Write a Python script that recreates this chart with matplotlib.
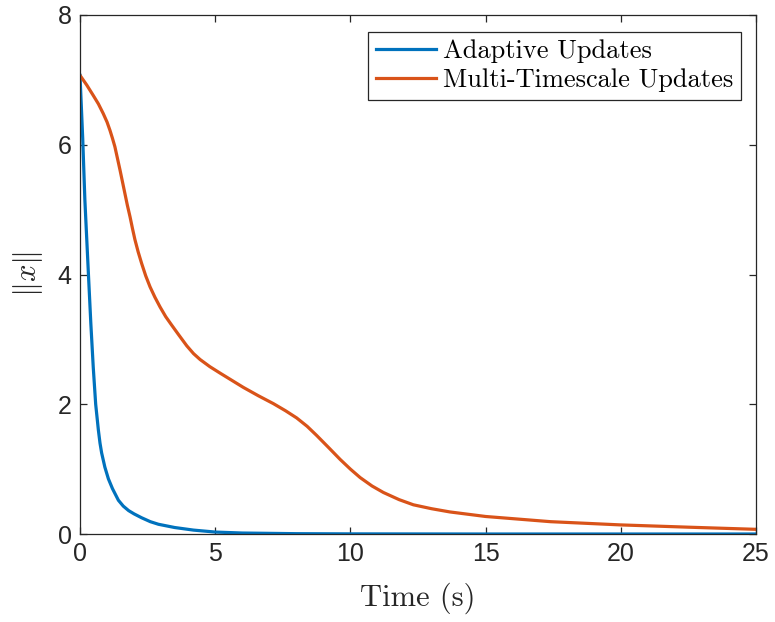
import matplotlib
matplotlib.use('Agg')
import matplotlib.pyplot as plt

# MATLAB default line colours
c_adaptive = '#0072BD'
c_multi = '#D95319'
axis_col = '#262626'

# values
t_adaptive = [0, 0.1, 0.18, 0.31, 0.4, 0.49, 0.58, 0.68, 0.74, 0.8, 0.92, 1.05, 1.2,
              1.42, 1.6, 1.8, 2.0, 2.28, 2.6, 2.9, 3.5, 4.2, 5, 6, 8, 10, 15, 20, 25]
x_adaptive = [7.07, 6.1, 5.15, 4.02, 3.25, 2.57, 2.0, 1.6, 1.4, 1.25, 1.03, 0.85, 0.7,
              0.52, 0.43, 0.36, 0.31, 0.25, 0.19, 0.15, 0.1, 0.06, 0.03, 0.015, 0.005,
              0.002, 0.0, 0.0, 0.0]

t_multi = [0, 0.25, 0.49, 0.68, 0.86, 1.0, 1.11, 1.2, 1.29, 1.38, 1.48, 1.57, 1.66,
           1.75, 1.85, 1.94, 2.03, 2.15, 2.28, 2.43, 2.59, 2.77, 2.96, 3.17, 3.39,
           3.65, 3.95, 4.2, 4.44, 4.8, 5.18, 6.04, 6.6, 7.15, 7.6, 8.01, 8.4, 8.75,
           9.2, 9.62, 10.0, 10.36, 10.8, 11.22, 11.8, 12.33, 13.0, 13.68, 15, 16.2,
           17.4, 18.7, 20, 22.5, 25]
x_multi = [7.07, 6.92, 6.76, 6.63, 6.48, 6.35, 6.22, 6.1, 5.97, 5.8, 5.61, 5.43, 5.25,
           5.07, 4.89, 4.71, 4.54, 4.35, 4.17, 3.98, 3.81, 3.65, 3.50, 3.35, 3.22,
           3.07, 2.9, 2.78, 2.69, 2.58, 2.48, 2.26, 2.13, 2.01, 1.9, 1.79, 1.66, 1.52,
           1.33, 1.15, 1.0, 0.87, 0.74, 0.64, 0.53, 0.45, 0.39, 0.34, 0.27, 0.23,
           0.19, 0.165, 0.14, 0.105, 0.072]

x_ticks = [0, 5, 10, 15, 20, 25]
y_ticks = [0, 2, 4, 6, 8]

plt.rcParams['mathtext.fontset'] = 'cm'

fig = plt.figure(figsize=(7.75, 6.22), dpi=100, facecolor='white')
ax = fig.add_axes([80 / 775, 88 / 622, 676 / 775, 519 / 622])

ax.plot(t_adaptive, x_adaptive, color=c_adaptive, lw=2.3, label='Adaptive Updates')
ax.plot(t_multi, x_multi, color=c_multi, lw=2.3, label='Multi-Timescale Updates')

ax.set_xlim(0, 25)
ax.set_ylim(0, 8)
ax.set_xticks(x_ticks)
ax.set_yticks(y_ticks)

for s in ax.spines.values():
    s.set_color(axis_col)
    s.set_linewidth(0.9)
ax.tick_params(direction='in', length=5, width=0.9, colors=axis_col,
               top=True, right=True, labelsize=18, pad=6)
for lab in ax.get_xticklabels() + ax.get_yticklabels():
    lab.set_fontfamily('Liberation Sans')

ax.set_xlabel('Time (s)', fontfamily='cmr10', fontsize=22, color=axis_col, labelpad=12)
ax.set_ylabel(r'$\|x\|$', fontsize=22, color=axis_col, labelpad=9)

leg = ax.legend(loc='upper right', bbox_to_anchor=(0.978, 0.968),
                prop={'family': 'cmr10', 'size': 19},
                frameon=True, fancybox=False, framealpha=1, edgecolor=axis_col,
                handlelength=2.3, handletextpad=0.25, borderpad=0.3,
                labelspacing=0.2, borderaxespad=0)
leg.get_frame().set_linewidth(0.9)

fig.savefig('out.png', dpi=100, facecolor='white')
